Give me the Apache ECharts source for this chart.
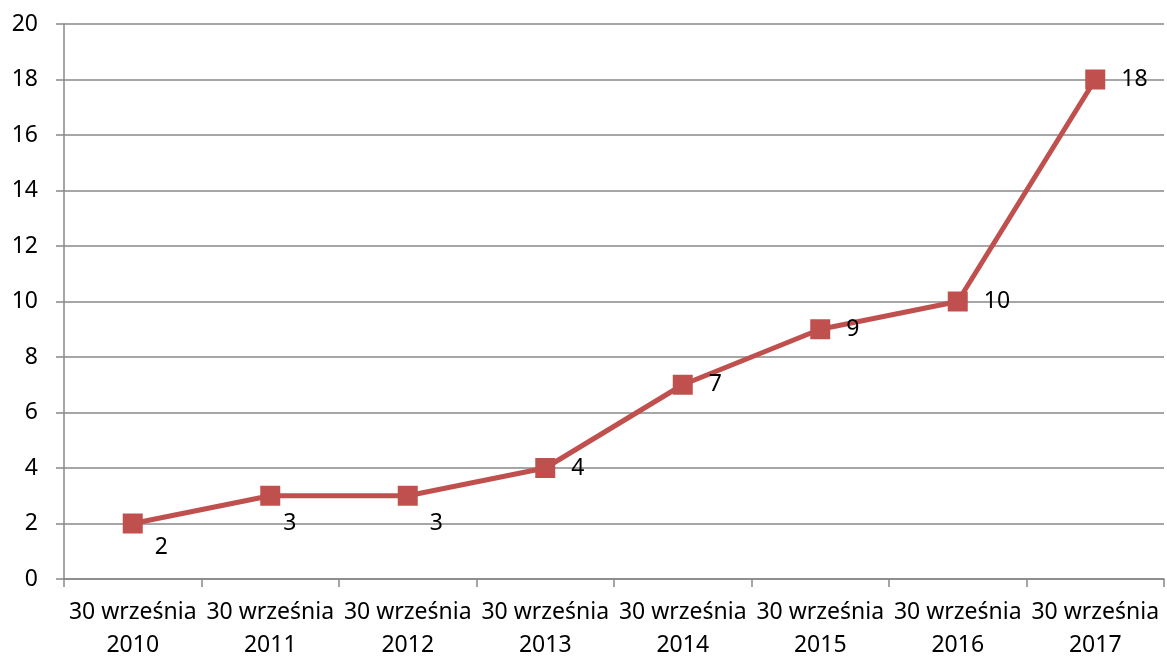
<!DOCTYPE html>
<html>
<head>
<meta charset="utf-8">
<script src="https://cdn.jsdelivr.net/npm/echarts@6/dist/echarts.min.js"></script>
<style>
  html, body { margin: 0; padding: 0; background: #fff; }
  #chart { width: 1167px; height: 659px; }
</style>
</head>
<body>
<div id="chart"></div>
<script>
const categories = [
  '30 września\n2010', '30 września\n2011', '30 września\n2012', '30 września\n2013',
  '30 września\n2014', '30 września\n2015', '30 września\n2016', '30 września\n2017'
]
const values = [2, 3, 3, 4, 7, 9, 10, 18]
const yTicks = { min: 0, max: 20, interval: 2 }

const fontFamily = '"Noto Sans", sans-serif'
const gray = '#888888'
const red = '#C0504D'

// the first three labels sit below-right of their markers, the rest to the right
const labelOffsets = [[-4, 24], [-13, 28], [-4, 28]]

const chart = echarts.init(document.getElementById('chart'))

chart.setOption({
  animation: false,
  grid: { left: 64, right: 3, top: 24, bottom: 80, outerBoundsMode: 'none' },
  xAxis: {
    type: 'category',
    data: categories,
    boundaryGap: true,
    axisLine: { lineStyle: { color: gray, width: 1.5 } },
    axisTick: { show: true, length: 8, lineStyle: { color: gray, width: 1.5 } },
    axisLabel: {
      color: '#000',
      fontFamily,
      fontSize: 23,
      lineHeight: 33,
      margin: 17,
      interval: 0
    }
  },
  yAxis: {
    type: 'value',
    min: yTicks.min,
    max: yTicks.max,
    interval: yTicks.interval,
    axisLine: { show: true, lineStyle: { color: gray, width: 1.5 } },
    axisTick: { show: true, length: 8, lineStyle: { color: gray, width: 1.5 } },
    splitLine: { lineStyle: { color: gray, width: 1.5 } },
    axisLabel: {
      color: '#000',
      fontFamily,
      fontSize: 23,
      margin: 26
    }
  },
  series: [{
    type: 'line',
    data: values.map((v, i) => labelOffsets[i]
      ? { value: v, label: { offset: labelOffsets[i] } }
      : v),
    symbol: 'rect',
    symbolSize: 20,
    lineStyle: { color: red, width: 5 },
    itemStyle: { color: red },
    label: {
      show: true,
      position: 'right',
      distance: 16,
      color: '#000',
      fontFamily,
      fontSize: 23
    }
  }]
})
</script>
</body>
</html>
